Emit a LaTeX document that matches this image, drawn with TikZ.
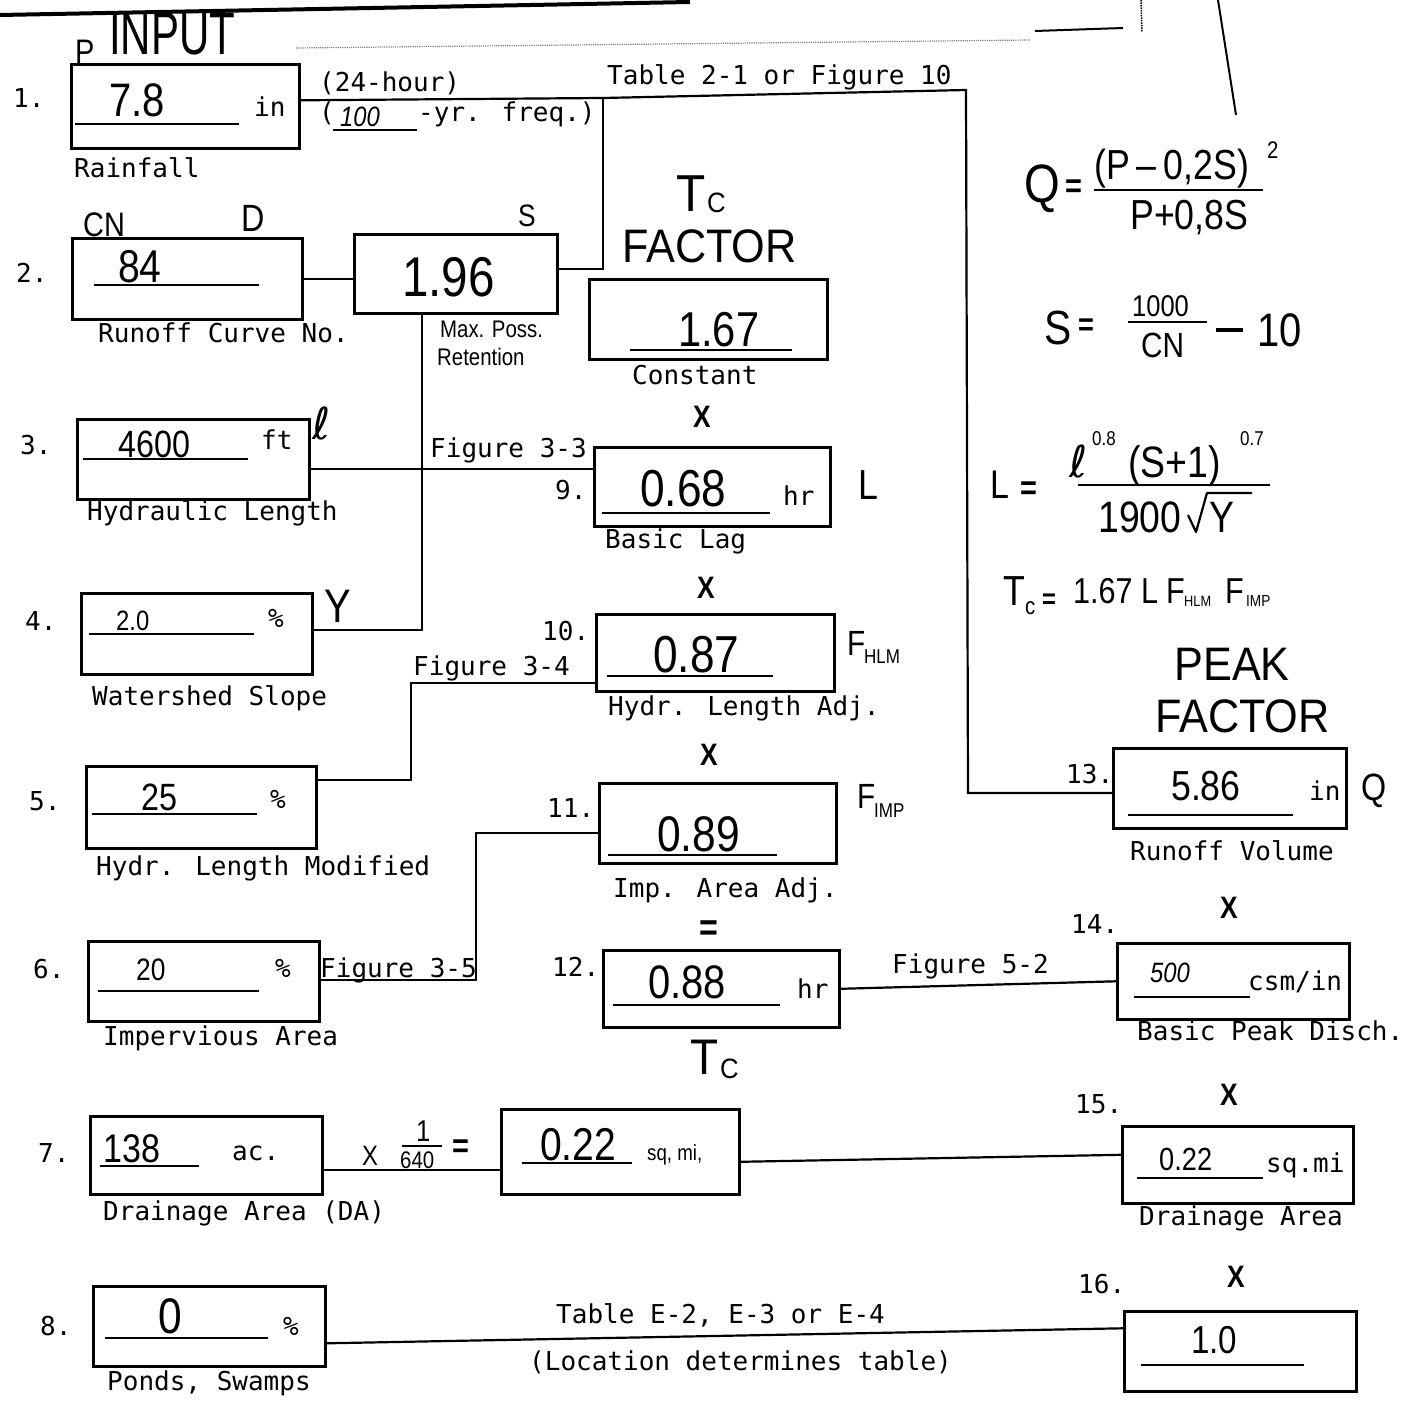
\documentclass[tikz,border=0pt]{standalone}
\usepackage{fontspec}
\newfontfamily\monofont{DejaVu Sans Mono}
\newfontfamily\dejafont{DejaVu Sans}
\newfontfamily\handfont{Liberation Sans}[FakeStretch=0.85]
\newfontfamily\headAfont{Liberation Sans}[FakeStretch=0.70]
\newfontfamily\headBfont{Liberation Sans}[FakeStretch=0.92]
\newcommand\HandAt[1]{\handfont\fontsize{#1}{#1}\selectfont}
\begin{document}
\begin{tikzpicture}[x=1pt,y=-1pt,
 box/.style={draw, line width=2.6pt, inner sep=0pt, anchor=north west},
 conn/.style={line width=2.2pt},
 uline/.style={line width=1.8pt},
 bar/.style={line width=2.6pt},
 typ/.style={inner sep=0pt, anchor=base west, font={\monofont\fontsize{26}{28}\selectfont}},
 hand/.style={inner sep=0pt, anchor=base west, font={\HandAt{#1}}},
 handit/.style={inner sep=0pt, anchor=base west, font={\HandAt{#1}\itshape}},
 handbf/.style={inner sep=0pt, anchor=base west, font={\HandAt{#1}\bfseries}},
 script/.style={inner sep=0pt, anchor=base west, font={\dejafont\fontsize{#1}{#1}\selectfont}},
 headA/.style={inner sep=0pt, anchor=base west, font={\headAfont\fontsize{#1}{#1}\selectfont}},
 headB/.style={inner sep=0pt, anchor=base west, font={\headBfont\fontsize{#1}{#1}\selectfont}},
 xmark/.style={inner sep=0pt, anchor=base west, font={\HandAt{31}\bfseries}}
]
\fill[white] (0,0) rectangle (1409,1404);
\useasboundingbox (0,0) rectangle (1409,1404);

% scan edge artifacts
\draw[line width=4pt] (0,15) -- (690,2);
\draw[densely dotted, line width=1.2pt, gray] (296,48) -- (1030,40);
\draw[line width=2pt] (1035,31) -- (1123,28);
\draw[densely dotted, line width=1.5pt] (1141,0) -- (1142,32);
\draw[line width=2pt] (1218,0) -- (1236,115);

% ---------- boxes ----------
\node[box, minimum width=228pt, minimum height=84pt] (b1) at (70,63) {};
\node[box, minimum width=230pt, minimum height=81pt] (b2) at (71,237) {};
\node[box, minimum width=203pt, minimum height=79pt] (bS) at (353,233) {};
\node[box, minimum width=238pt, minimum height=80pt] (bK) at (588,278) {};
\node[box, minimum width=232pt, minimum height=80pt] (b3) at (76,418) {};
\node[box, minimum width=231pt, minimum height=81pt] (b4) at (80,592) {};
\node[box, minimum width=230pt, minimum height=82pt] (b5) at (85,765) {};
\node[box, minimum width=231pt, minimum height=80pt] (b6) at (87,940) {};
\node[box, minimum width=232pt, minimum height=78pt] (b7) at (89,1115) {};
\node[box, minimum width=232pt, minimum height=80pt] (b8) at (92,1285) {};
\node[box, minimum width=236pt, minimum height=79pt] (b9) at (593,446) {};
\node[box, minimum width=238pt, minimum height=77pt] (b10) at (595,613) {};
\node[box, minimum width=237pt, minimum height=80pt] (b11) at (598,782) {};
\node[box, minimum width=236pt, minimum height=77pt] (b12) at (602,949) {};
\node[box, minimum width=238pt, minimum height=85pt] (bA) at (500,1108) {};
\node[box, minimum width=233pt, minimum height=80pt] (b13) at (1112,747) {};
\node[box, minimum width=232pt, minimum height=76pt] (b14) at (1116,942) {};
\node[box, minimum width=231pt, minimum height=77pt] (b15) at (1121,1125) {};
\node[box, minimum width=232pt, minimum height=80pt] (b16) at (1123,1310) {};

% ---------- connectors ----------
\coordinate (j1) at (603,98);
\coordinate (j2) at (966,90);
\coordinate (j3) at (968,793);
\draw[conn] ([yshift=6pt]b1.east) -- (j1) -- (j2) -- (j3) -- (j3 -| b13.west);
\draw[conn] (j1) |- ([yshift=5pt]bS.east);
\draw[conn] (b2.east) -- (b2.east -| bS.west);
\draw[conn] ([xshift=69pt]bS.south west) |- ([yshift=4pt]b4.east);
\draw[conn] ([yshift=-10pt]b3.east) coordinate (p3) -- (p3 -| b9.west);
\coordinate (k5) at (411,780);
\draw[conn] ([yshift=-30pt]b10.west) -| (k5) -- (k5 -| b5.east);
\coordinate (k6) at (476,980);
\draw[conn] ([yshift=-10pt]b11.west) -| (k6) -- (k6 -| b6.east);
\draw[conn] (b12.east) -- (b14.west);
\draw[conn] ([yshift=-15pt]b7.east) coordinate (p7) -- (p7 -| bA.west);
\draw[conn] ([yshift=-10pt]bA.east) -- ([yshift=10pt]b15.west);
\draw[conn] ([yshift=-17pt]b8.east) -- ([yshift=23pt]b16.west);

% ---------- underlines in boxes ----------
\draw[uline] (75,124) -- (239,124);
\draw[uline] (333,130) -- (417,130);
\draw[uline] (94,285) -- (259,285);
\draw[uline] (630,350) -- (792,350);
\draw[uline] (83,459) -- (248,459);
\draw[uline] (89,634) -- (254,634);
\draw[uline] (92,814) -- (257,814);
\draw[uline] (98,991) -- (259,991);
\draw[uline] (100,1166) -- (199,1166);
\draw[uline] (105,1338) -- (268,1338);
\draw[uline] (602,513) -- (770,513);
\draw[uline] (607,676) -- (773,676);
\draw[uline] (608,855) -- (777,855);
\draw[uline] (613,1005) -- (780,1005);
\draw[uline] (522,1163) -- (632,1163);
\draw[uline] (1128,815) -- (1293,815);
\draw[uline] (1134,997) -- (1250,997);
\draw[uline] (1137,1178) -- (1263,1178);
\draw[uline] (1141,1365) -- (1304,1365);

% ---------- typed text ----------
\node[typ] (n1) at (13,108) {1.};
\node[typ] (n2) at (16,283) {2.};
\node[typ] (n3) at (20,455) {3.};
\node[typ] (n4) at (25,630) {4.};
\node[typ] (n5) at (29,810) {5.};
\node[typ] (n6) at (33,978) {6.};
\node[typ] (n7) at (38,1162) {7.};
\node[typ] (n8) at (40,1335) {8.};
\node[typ] (n9) at (555,500) {9.};
\node[typ] (n10) at (542,640) {10.};
\node[typ] (n11) at (547,817) {11.};
\node[typ] (n12) at (552,976) {12.};
\node[typ] (n13) at (1066,783) {13.};
\node[typ] (n14) at (1071,933) {14.};
\node[typ] (n15) at (1075,1113) {15.};
\node[typ] (n16) at (1078,1293) {16.};

\node[typ] (u1) at (254,117) {in};
\node[typ] (t24) at (319,92) {(24-hour)};
\node[typ] (tpo) at (319,122) {(};
\node[typ] (tfr) at (418,122) {-yr. freq.)};
\node[typ] (ttab) at (607,85) {Table 2-1 or Figure 10};
\node[typ] (lrain) at (74,178) {Rainfall};
\node[typ] (lcn) at (98,343) {Runoff Curve No.};
\node[typ] (lconst) at (632,385) {Constant};
\node[typ] (u3) at (261,450) {ft};
\node[typ] (lhl) at (87,520) {Hydraulic Length};
\node[typ] (f33) at (430,458) {Figure 3-3};
\node[typ] (u9) at (783,505) {hr};
\node[typ] (llag) at (605,548) {Basic Lag};
\node[typ] (u4) at (268,627) {\%};
\node[typ] (lws) at (92,705) {Watershed Slope};
\node[typ] (f34) at (413,675) {Figure 3-4};
\node[typ] (lhla) at (608,715) {Hydr. Length Adj.};
\node[typ] (u5) at (270,808) {\%};
\node[typ] (lhlm) at (96,875) {Hydr. Length Modified};
\node[typ] (liaa) at (613,897) {Imp. Area Adj.};
\node[typ] (u6) at (275,977) {\%};
\node[typ] (f35) at (320,977) {Figure 3-5};
\node[typ] (lia) at (103,1045) {Impervious Area};
\node[typ] (u12) at (797,998) {hr};
\node[typ] (f52) at (892,973) {Figure 5-2};
\node[typ] (u14) at (1248,990) {csm/in};
\node[typ] (lbpd) at (1137,1040) {Basic Peak Disch.};
\node[typ] (lrv) at (1130,860) {Runoff Volume};
\node[typ] (u13) at (1309,800) {in};
\node[typ] (u7) at (232,1160) {ac.};
\node[typ] (lda) at (103,1220) {Drainage Area (DA)};
\node[typ] (u15) at (1266,1172) {sq.mi};
\node[typ] (lda2) at (1139,1225) {Drainage Area};
\node[typ] (u8) at (283,1335) {\%};
\node[typ] (lps) at (107,1390) {Ponds, Swamps};
\node[typ] (tE) at (556,1323) {Table E-2, E-3 or E-4};
\node[typ] (tloc) at (529,1370) {(Location determines table)};

% ---------- headings ----------
\node[headA=60] (hin) at (109,55) {INPUT};
\node[headB=52] (hT1) at (676,212) {T};
\node[headB=28] (hC1) at (707,213) {C};
\node[headB=47] (hF1) at (622,263) {FACTOR};
\node[headB=47, anchor=base] (hPk) at (1232,680) {PEAK};
\node[headB=47] (hF2) at (1155,732) {FACTOR};
\node[headB=50] (hT2) at (690,1074) {T};
\node[headB=28] (hC2) at (720,1078) {C};

% ---------- handwritten values ----------
\node[hand=34] (hp) at (75,64) {P};
\node[hand=47] (v1) at (109,117) {7.8};
\node[handit=28] (v100) at (340,127) {100};
\node[hand=34] (hcn) at (83,237) {CN};
\node[hand=38] (hd) at (241,232) {D};
\node[hand=31] (hs) at (518,227) {S};
\node[hand=46] (v2) at (118,283) {84};
\node[hand=56] (vS) at (402,297) {1.96};
\node[hand=24] (hmp) at (440,338) {Max. Poss.};
\node[hand=24] (hret) at (437,366) {Retention};
\node[hand=49] (vK) at (678,347) {1.67};
\node[hand=38] (v3) at (118,457) {4600};
\node[script=44] (hl) at (312,440) {ℓ};
\node[hand=28] (v4) at (116,630) {2.0};
\node[hand=47] (hy) at (324,622) {Y};
\node[hand=38] (v5) at (141,810) {25};
\node[hand=31] (v6) at (136,980) {20};
\node[hand=40] (v7) at (103,1162) {138};
\node[hand=50] (v8) at (158,1333) {0};
\node[xmark] (x9) at (693,428) {X};
\node[hand=52] (v9) at (640,507) {0.68};
\node[hand=42] (hL) at (858,500) {L};
\node[xmark] (x10) at (697,598) {X};
\node[hand=52] (v10) at (653,672) {0.87};
\node[hand=35] (hF10) at (847,655) {F};
\node[hand=20] (hF10s) at (864,663) {HLM};
\node[xmark] (x11) at (700,765) {X};
\node[hand=50] (v11) at (657,851) {0.89};
\node[hand=35] (hF11) at (857,808) {F};
\node[hand=20] (hF11s) at (874,817) {IMP};
\node[handbf=38] (eq12) at (699,940) {=};
\node[hand=47] (v12) at (648,998) {0.88};
\node[hand=28] (hx7) at (362,1165) {X};
\node[hand=30] (h1a) at (416,1141) {1};
\draw[line width=2pt] (402,1146) -- (442,1146);
\node[hand=24] (h640) at (400,1168) {640};
\node[handbf=34] (heq7) at (452,1157) {=};
\node[hand=46] (vA) at (540,1160) {0.22};
\node[hand=22] (hsqmi) at (647,1160) {sq, mi,};
\node[hand=42] (v13) at (1171,800) {5.86};
\node[hand=38] (hQ) at (1361,800) {Q};
\node[xmark] (x14) at (1220,918) {X};
\node[handit=28] (v14) at (1150,982) {500};
\node[xmark] (x15) at (1220,1105) {X};
\node[hand=32] (v15) at (1159,1170) {0.22};
\node[xmark] (x16) at (1227,1287) {X};
\node[hand=39] (v16) at (1191,1353) {1.0};

% ---------- formulas ----------
\node[hand=54] (fQ) at (1024,203) {Q};
\node[handbf=34] (fQeq) at (1065,198) {=};
\node[hand=42] (fQn) at (1094,180) {(P\,–\,0,2S)};
\node[hand=24] (fQ2) at (1267,159) {2};
\draw[bar] (1094,190) -- (1263,190);
\node[hand=42] (fQd) at (1130,230) {P+0,8S};

\node[hand=48] (fS) at (1044,345) {S};
\node[handbf=32] (fSeq) at (1078,336) {=};
\node[hand=30] (fSn) at (1132,317) {1000};
\draw[bar] (1128,322) -- (1207,322);
\node[hand=35] (fSd) at (1141,358) {CN};
\draw[line width=3.5pt] (1216,330) -- (1243,330);
\node[hand=47] (fS10) at (1257,347) {10};

\node[hand=40] (fL) at (990,498) {L};
\node[handbf=34] (fLeq) at (1020,500) {=};
\node[script=44] (fLl) at (1069,478) {ℓ};
\node[hand=20] (fL08) at (1092,446) {0.8};
\node[hand=44] (fLs) at (1128,478) {(S+1)};
\node[hand=20] (fL07) at (1240,446) {0.7};
\draw[bar] (1078,485) -- (1270,485);
\node[hand=44] (fL19) at (1098,532) {1900};
\draw[line width=2.2pt, line join=round] (1188,515) -- (1196,532) -- (1207,493) -- (1252,493);
\node[hand=44] (fLY) at (1209,532) {Y};

\node[hand=42] (fT) at (1003,605) {T};
\node[hand=24] (fTc) at (1025,614) {c};
\node[handbf=28] (fTeq) at (1042,608) {=};
\node[hand=36] (fT167) at (1073,603) {1.67};
\node[hand=36] (fTL) at (1141,603) {L};
\node[hand=36] (fTF1) at (1166,603) {F};
\node[hand=15] (fTF1s) at (1184,606) {HLM};
\node[hand=36] (fTF2) at (1225,603) {F};
\node[hand=16] (fTF2s) at (1246,606) {IMP};
\end{tikzpicture}
\end{document}
